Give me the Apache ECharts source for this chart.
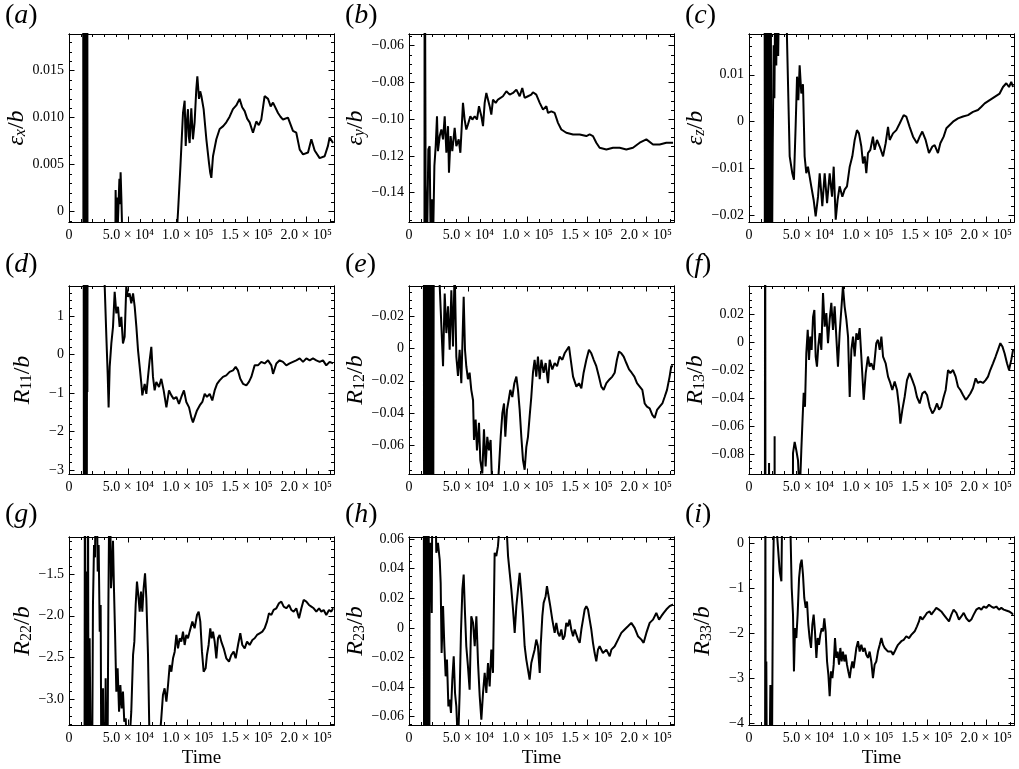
<!DOCTYPE html>
<html><head><meta charset="utf-8">
<script src="https://cdn.jsdelivr.net/npm/echarts@6/dist/echarts.min.js"></script>
<style>html,body{margin:0;padding:0;background:#fff}#c{width:1019px;height:769px}</style>
</head><body><div id="c"></div>
<script>
// ---------- data (time in thousands) ----------
const timeTicks = [0, 50000, 100000, 150000, 200000];
const timeTickLabels = ['0', '5.0 × 10⁴', '1.0 × 10⁵', '1.5 × 10⁵', '2.0 × 10⁵'];
const timeMax = 223400;

const panelLetters = ['a','b','c','d','e','f','g','h','i'];
const yNameMain = ['ε','ε','ε','R','R','R','R','R','R'];
const yNameSub = ['x','y','z','11','12','13','22','23','33'];
const yMins = [-0.0011,-0.156,-0.0214,-3.1,-0.0776,-0.0938,-3.31,-0.0656,-4.04];
const yMaxs = [0.0189,-0.0536,0.0187,1.78,0.0386,0.040,-1.055,0.0614,0.133];
const yTickValues = [[0,0.005,0.01,0.015],[-0.14,-0.12,-0.1,-0.08,-0.06],[-0.02,-0.01,0,0.01],[-3,-2,-1,0,1],[-0.06,-0.04,-0.02,0,0.02],[-0.08,-0.06,-0.04,-0.02,0,0.02],[-3,-2.5,-2,-1.5],[-0.06,-0.04,-0.02,0,0.02,0.04,0.06],[-4,-3,-2,-1,0]];
const yTickLabels = [['0','0.005','0.010','0.015'],['−0.14','−0.12','−0.10','−0.08','−0.06'],['−0.02','−0.01','0','0.01'],['−3','−2','−1','0','1'],['−0.06','−0.04','−0.02','0','−0.02'],['−0.08','−0.06','−0.04','−0.02','0','0.02'],['−3.0','−2.5','−2.0','−1.5'],['−0.06','−0.04','−0.02','0','0.02','0.04','0.06'],['−4','−3','−2','−1','0']];
const yMinorStep = [0.001,0.005,0.002,0.2,0.005,0.005,0.1,0.005,0.2];

const epsX = [[0,0.05],[11.8,0.05],[12.2,-0.01],[12.6,0.04],[13.0,-0.01],[13.4,0.04],[13.8,-0.01],[14.2,0.04],[14.6,-0.01],[15.0,0.04],[15.2,0.0172],[15.4,0.04],[15.6,-0.01],[38.8,-0.01],[39.3,0.0023],[39.9,-0.002],[40.5,0.0015],[41.0,-0.002],[41.8,0.001],[42.5,0.0035],[43.0,0.0008],[43.5,0.0042],[44.2,0.0012],[44.8,-0.002],[91.0,-0.002],[92.0,0.0002],[94.0,0.005],[96.1,0.0105],[97.5,0.0118],[98.4,0.007],[99.3,0.0095],[100.3,0.0109],[101.0,0.008],[101.7,0.0073],[103.1,0.011],[104.5,0.0077],[105.9,0.0095],[107.3,0.013],[108.2,0.0144],[109.6,0.012],[110.6,0.0128],[111.6,0.0123],[113.5,0.0109],[115.8,0.0077],[118.0,0.0052],[119.1,0.0041],[120.0,0.0036],[121.4,0.0059],[122.8,0.0068],[124.2,0.0077],[127.0,0.0088],[130.0,0.0091],[132.6,0.0095],[135.4,0.0101],[138.2,0.0109],[141.0,0.0113],[143.8,0.012],[146.0,0.0111],[148.1,0.0107],[150.2,0.0099],[152.3,0.0095],[155.1,0.0084],[157.9,0.0096],[160.0,0.0092],[162.1,0.0098],[164.9,0.0123],[167.8,0.012],[170.0,0.0112],[172.0,0.0116],[176.2,0.0105],[178.3,0.0101],[180.4,0.0098],[184.6,0.01],[188.8,0.0086],[191.6,0.0084],[194.5,0.0066],[197.3,0.0061],[201.5,0.0063],[204.3,0.0077],[207.1,0.0065],[211.3,0.0057],[215.5,0.0059],[218.3,0.007],[219.7,0.0079],[222.6,0.0073]];
const epsY = [[0,-0.5],[12.8,-0.5],[13.2,0.05],[14.0,-0.136],[15.2,-0.17],[16.3,-0.1165],[17.4,-0.1147],[18.3,-0.17],[19.4,-0.1436],[20.2,-0.17],[21.4,-0.1255],[22.5,-0.1147],[23.6,-0.0984],[24.4,-0.1174],[25.9,-0.1092],[27.3,-0.1056],[28.7,-0.111],[30.1,-0.0984],[31.5,-0.1183],[32.9,-0.1038],[33.7,-0.1291],[35.1,-0.1092],[36.5,-0.1174],[38.5,-0.1047],[39.9,-0.1147],[41.9,-0.111],[43.3,-0.1183],[45.5,-0.0911],[46.9,-0.1002],[48.3,-0.1056],[49.7,-0.1029],[51.7,-0.0984],[53.4,-0.1002],[55.4,-0.0984],[57.3,-0.1002],[59.0,-0.0929],[61.0,-0.0984],[62.4,-0.1038],[63.8,-0.0911],[65.2,-0.0857],[66.6,-0.0848],[68.0,-0.0929],[69.4,-0.0975],[70.8,-0.0893],[73.1,-0.0911],[75.0,-0.0893],[76.4,-0.0884],[79.2,-0.0875],[82.1,-0.0848],[84.9,-0.0866],[87.7,-0.0857],[90.5,-0.0839],[93.3,-0.0875],[95.5,-0.083],[97.5,-0.0884],[100.3,-0.0875],[103.1,-0.0866],[104.5,-0.0853],[107.3,-0.0866],[110.2,-0.0911],[113.0,-0.0948],[115.8,-0.0929],[117.2,-0.0966],[120.0,-0.0957],[122.8,-0.0966],[125.6,-0.102],[128.4,-0.1056],[132.6,-0.1074],[138.3,-0.1083],[143.9,-0.1083],[149.5,-0.1092],[152.3,-0.1083],[155.1,-0.1092],[157.9,-0.1128],[160.7,-0.1156],[166.4,-0.1165],[172.0,-0.1156],[177.6,-0.1156],[183.2,-0.1165],[188.8,-0.1156],[194.5,-0.1128],[200.1,-0.111],[205.7,-0.1138],[211.3,-0.1138],[216.9,-0.1128],[222.6,-0.1128]];
const epsZ = [[0,0.1],[13.0,0.1],[13.4,-0.05],[14.1,0.05],[14.8,-0.05],[15.5,0.05],[16.2,-0.05],[16.9,0.05],[17.6,-0.05],[18.3,0.05],[18.9,-0.05],[20.0,-0.005],[20.8,0.0163],[21.4,0.005],[22.2,0.03],[23.0,0.012],[23.8,0.03],[24.6,0.014],[25.4,0.03],[31.6,0.03],[32.0,0.018],[34.3,-0.0074],[36.5,-0.011],[37.9,-0.0124],[39.3,-0.0011],[40.5,0.0096],[41.6,0.0046],[42.7,0.012],[44.1,0.006],[45.5,0.008],[46.9,-0.0074],[48.3,-0.011],[49.7,-0.0096],[52.5,-0.0138],[54.5,-0.0167],[56.2,-0.0202],[58.2,-0.016],[59.6,-0.011],[61.8,-0.018],[63.8,-0.011],[65.8,-0.0174],[68.0,-0.011],[70.0,-0.016],[71.4,-0.0096],[73.1,-0.0209],[74.7,-0.0167],[76.4,-0.0138],[78.7,-0.016],[80.6,-0.0145],[82.6,-0.0138],[84.9,-0.0096],[87.1,-0.0074],[89.1,-0.0039],[91.0,-0.0018],[92.7,-0.0025],[94.7,-0.0053],[96.1,-0.0089],[97.5,-0.0074],[98.9,-0.011],[100.3,-0.0067],[102.3,-0.006],[104.5,-0.0032],[105.9,-0.006],[107.9,-0.0039],[110.2,-0.0053],[113.0,-0.0074],[115.2,-0.0046],[117.2,-0.0011],[118.6,-0.0039],[121.4,-0.0025],[124.2,-0.0018],[127.0,-0.0004],[130.4,0.0014],[132.6,0.0011],[135.4,-0.0011],[138.3,-0.0032],[141.6,-0.0046],[143.9,-0.0032],[146.1,-0.0021],[148.9,-0.0039],[151.7,-0.0067],[154.6,-0.0053],[156.5,-0.005],[159.3,-0.0067],[161.3,-0.0046],[164.1,-0.0032],[166.4,-0.0014],[169.2,-0.0007],[172.0,0],[176.2,0.0007],[180.4,0.0011],[184.6,0.0014],[188.8,0.0021],[193.0,0.0025],[195.9,0.0032],[198.7,0.0039],[202.9,0.0046],[207.1,0.0053],[211.3,0.006],[214.1,0.0074],[216.9,0.0082],[219.2,0.0074],[221.1,0.0085],[222.6,0.0074]];
const r11 = [[0,5],[12.3,5],[12.6,-5],[13.0,5],[13.4,-5],[13.8,5],[14.2,-5],[14.6,5],[15.0,-5],[15.3,5],[15.5,-0.97],[15.7,5],[29.6,5],[30.1,1.77],[31.5,0.46],[32.6,-0.5],[33.4,-1.37],[34.3,-0.32],[35.7,0.29],[37.1,0.72],[38.5,1.63],[39.9,1.07],[41.3,1.24],[42.7,0.72],[44.1,0.98],[45.5,0.29],[46.9,0.46],[48.3,1.77],[49.7,1.5],[51.1,1.59],[52.5,1.33],[54.0,1.59],[55.4,1.24],[56.8,0.72],[58.2,0.11],[59.6,-0.32],[61.0,-0.76],[61.8,-1.06],[63.8,-0.76],[65.2,-1.02],[66.6,-0.58],[68.0,-0.15],[69.4,0.2],[70.8,-0.58],[72.2,-0.93],[73.6,-0.71],[75.9,-0.84],[77.8,-0.63],[79.8,-0.93],[82.1,-1.37],[84.3,-0.93],[86.3,-1.06],[88.2,-1.15],[90.5,-1.1],[92.7,-1.28],[94.7,-1.1],[96.9,-0.93],[98.9,-1.23],[101.2,-1.37],[103.1,-1.63],[104.5,-1.76],[105.9,-1.63],[107.9,-1.45],[110.2,-1.32],[112.4,-1.23],[114.4,-1.02],[116.3,-1.1],[118.6,-1.02],[120.8,-1.19],[122.8,-0.93],[124.8,-0.76],[127.0,-0.67],[129.8,-0.58],[132.6,-0.54],[135.4,-0.45],[138.3,-0.41],[140.5,-0.32],[142.4,-0.41],[144.4,-0.63],[146.7,-0.76],[149.5,-0.8],[151.7,-0.71],[153.7,-0.58],[156.5,-0.28],[159.3,-0.28],[162.1,-0.19],[164.9,-0.23],[167.8,-0.15],[170.6,-0.28],[172.0,-0.5],[174.8,-0.23],[177.6,-0.15],[180.4,-0.19],[183.2,-0.28],[186.0,-0.23],[188.8,-0.19],[191.6,-0.15],[194.5,-0.1],[197.3,-0.19],[200.1,-0.1],[202.9,-0.15],[205.7,-0.1],[208.5,-0.15],[211.3,-0.19],[214.1,-0.15],[216.9,-0.28],[219.7,-0.19],[222.6,-0.23]];
const r12 = [[0,0.2],[12.4,0.2],[12.8,-0.2],[13.2,0.2],[13.6,-0.2],[14.0,0.2],[14.4,-0.2],[14.8,0.2],[15.2,-0.2],[15.5,-0.059],[16.0,0.2],[16.9,0.2],[17.3,-0.2],[17.8,0.2],[18.3,-0.2],[18.8,0.2],[19.3,-0.2],[19.8,0.2],[20.2,-0.2],[20.8,0.036],[21.6,0.036],[23.0,0.2],[25.9,0.0384],[28.7,-0.011],[30.1,0.034],[31.5,0.0095],[32.9,0.026],[34.3,-0.0008],[35.7,0.036],[37.1,0.0012],[38.5,0.05],[39.9,-0.005],[41.3,-0.017],[42.7,-0.0008],[44.1,-0.0215],[46.1,0.032],[47.2,-0.0008],[48.3,-0.011],[49.7,-0.019],[51.1,-0.015],[52.5,-0.0256],[54.0,-0.032],[54.8,-0.0566],[56.2,-0.044],[57.3,-0.063],[59.0,-0.046],[60.1,-0.069],[61.8,-0.0773],[63.2,-0.05],[64.6,-0.073],[66.0,-0.0546],[67.4,-0.063],[68.8,-0.0566],[70.3,-0.09],[73.6,-0.1],[75.9,-0.073],[77.3,-0.0546],[78.7,-0.04],[80.1,-0.034],[81.2,-0.0546],[82.6,-0.038],[84.0,-0.032],[85.4,-0.0256],[87.1,-0.03],[88.8,-0.0215],[90.5,-0.0174],[91.9,-0.0256],[93.3,-0.038],[94.7,-0.0546],[96.1,-0.069],[97.5,-0.075],[98.9,-0.061],[100.3,-0.0546],[101.7,-0.042],[103.1,-0.03],[104.5,-0.015],[105.9,-0.007],[107.3,-0.0174],[108.7,-0.005],[110.2,-0.019],[111.6,-0.007],[113.5,-0.015],[115.2,-0.009],[117.2,-0.0215],[118.6,-0.007],[120.8,-0.013],[122.8,-0.009],[124.8,-0.011],[127.0,-0.005],[129.3,-0.007],[131.2,-0.003],[132.6,-0.003],[134.9,0.0012],[136.0,-0.005],[138.3,-0.0174],[141.1,-0.0236],[143.3,-0.0215],[145.3,-0.0246],[147.2,-0.015],[149.5,-0.007],[151.7,-0.0008],[153.7,-0.003],[155.7,-0.007],[157.9,-0.011],[160.1,-0.0174],[162.1,-0.0236],[164.1,-0.0256],[166.4,-0.0215],[169.2,-0.019],[171.4,-0.0174],[173.4,-0.015],[175.3,-0.007],[177.0,-0.0019],[179.0,-0.003],[181.0,-0.005],[183.2,-0.009],[185.5,-0.013],[187.7,-0.015],[190.0,-0.0174],[192.2,-0.0215],[194.5,-0.0236],[196.7,-0.0256],[198.7,-0.034],[200.6,-0.036],[202.9,-0.037],[205.1,-0.041],[207.1,-0.043],[209.1,-0.038],[211.3,-0.036],[213.6,-0.034],[215.5,-0.03],[217.5,-0.0256],[219.7,-0.0174],[221.1,-0.011],[222.6,-0.011]];
const r13 = [[0,-0.3],[13.3,-0.3],[13.6,0.2],[14.0,-0.3],[16.5,-0.3],[16.9,-0.086],[17.3,-0.3],[21.3,-0.3],[21.6,-0.067],[21.9,-0.3],[36.5,-0.3],[37.1,-0.079],[38.5,-0.071],[39.9,-0.077],[41.3,-0.084],[42.7,-0.11],[44.1,-0.077],[45.0,-0.058],[46.1,-0.036],[47.2,-0.046],[48.3,-0.008],[49.5,0.0088],[50.6,-0.0126],[51.7,0.004],[52.8,-0.0055],[54.0,0.018],[55.1,0.0229],[56.2,-0.0102],[57.3,-0.0174],[58.4,-0.003],[59.6,0.0064],[61.0,-0.0055],[62.4,0.035],[63.8,0.011],[65.2,0.0207],[66.6,-0.0007],[68.0,0.016],[69.4,0.028],[70.8,0.0088],[72.2,0.0255],[73.6,0.004],[75.0,-0.0174],[76.4,0.0064],[77.8,0.0229],[79.2,0.04],[80.6,0.0255],[82.1,0.016],[83.5,0.004],[84.9,-0.039],[86.3,-0.0055],[87.7,0.004],[89.1,-0.0102],[90.5,0.0064],[91.9,0.0017],[93.3,0.01],[94.7,-0.0102],[96.7,-0.041],[98.4,-0.022],[100.3,-0.0102],[101.7,-0.0174],[103.1,-0.015],[105.1,-0.0198],[107.3,-0.0007],[108.7,0.0017],[110.2,-0.0055],[111.6,0.004],[113.0,-0.0102],[115.2,-0.015],[117.2,-0.0245],[119.1,-0.029],[120.8,-0.034],[122.8,-0.028],[124.8,-0.034],[126.5,-0.046],[127.6,-0.058],[129.3,-0.048],[131.2,-0.039],[133.2,-0.027],[135.4,-0.022],[137.7,-0.027],[139.7,-0.0317],[141.6,-0.039],[143.9,-0.0436],[146.1,-0.0365],[148.1,-0.035],[150.1,-0.0376],[152.3,-0.046],[154.6,-0.0507],[156.5,-0.048],[158.5,-0.0436],[160.2,-0.048],[162.1,-0.046],[164.1,-0.039],[165.8,-0.034],[167.8,-0.0198],[169.7,-0.022],[172.0,-0.0198],[174.2,-0.0245],[176.2,-0.0317],[178.2,-0.034],[180.4,-0.0376],[182.7,-0.041],[184.6,-0.039],[186.6,-0.0365],[188.8,-0.0328],[191.1,-0.0257],[193.0,-0.029],[195.0,-0.028],[197.3,-0.029],[199.5,-0.027],[201.5,-0.0245],[203.4,-0.0198],[205.7,-0.015],[207.9,-0.0102],[209.9,-0.0055],[211.9,-0.0007],[213.6,-0.003],[215.5,-0.008],[217.5,-0.015],[219.2,-0.0198],[221.1,-0.0126],[222.6,-0.0055]];
const r22 = [[0,-5],[13.0,-5],[13.4,0],[13.8,-5],[14.6,-1.47],[15.2,-5],[16.0,0],[16.6,-5],[17.4,-2.27],[18.0,-2.27],[19.1,-5],[20.2,-1.87],[21.1,-1.15],[21.9,-1.3],[23.0,0],[24.2,-1.47],[25.0,-1.15],[25.9,-2.19],[26.7,-1.87],[27.5,-5],[28.7,-2.87],[29.8,-5],[30.9,-2.75],[32.0,-5],[33.2,-1.87],[34.3,0],[35.4,-1.67],[36.2,-1.47],[37.1,-1.1],[37.9,-1.67],[38.8,-2.19],[39.9,-2.91],[41.0,-2.63],[42.2,-3.15],[43.3,-2.83],[44.4,-3.11],[45.5,-2.91],[46.6,-3.27],[47.8,-3.23],[48.9,-3.6],[50.6,-3.6],[52.5,-3.15],[54.0,-2.47],[55.1,-2.31],[56.2,-1.87],[57.3,-1.59],[58.4,-1.75],[59.6,-1.95],[60.7,-1.71],[61.8,-1.95],[62.9,-1.67],[64.1,-1.49],[65.2,-1.79],[66.6,-2.47],[68.0,-3.6],[73.6,-4],[77.8,-3.23],[79.2,-2.95],[80.6,-2.87],[82.1,-3.03],[83.5,-2.83],[84.9,-2.59],[86.3,-2.67],[87.7,-2.51],[89.1,-2.43],[90.5,-2.23],[91.9,-2.39],[93.3,-2.27],[94.7,-2.31],[96.1,-2.19],[97.5,-2.35],[98.9,-2.23],[100.3,-2.27],[101.7,-2.19],[104.0,-2.07],[105.9,-2.15],[107.9,-1.99],[109.3,-1.95],[110.7,-2.07],[112.1,-2.43],[113.5,-2.67],[115.2,-2.63],[116.3,-2.47],[117.7,-2.35],[119.1,-2.15],[120.3,-2.27],[121.4,-2.19],[122.8,-2.31],[124.2,-2.51],[125.6,-2.27],[127.0,-2.23],[128.4,-2.31],[130.4,-2.39],[132.6,-2.51],[134.9,-2.55],[136.8,-2.47],[138.8,-2.43],[140.5,-2.51],[142.5,-2.35],[144.4,-2.21],[146.1,-2.35],[148.1,-2.39],[150.1,-2.31],[152.3,-2.35],[154.6,-2.29],[156.5,-2.27],[158.5,-2.23],[160.7,-2.21],[163.0,-2.19],[164.9,-2.15],[166.9,-2.07],[168.6,-1.97],[170.6,-1.99],[172.5,-1.93],[174.8,-1.91],[177.0,-1.85],[179.0,-1.83],[181.0,-1.89],[183.2,-1.91],[185.5,-1.87],[187.4,-1.93],[189.4,-1.95],[191.6,-1.91],[193.9,-2.03],[195.9,-1.91],[197.8,-1.81],[200.1,-1.83],[202.3,-1.87],[204.3,-1.89],[206.3,-1.91],[208.5,-1.95],[210.8,-1.91],[212.7,-1.95],[214.7,-1.93],[216.9,-1.99],[219.2,-1.93],[221.1,-1.95],[222.6,-1.91]];
const r23 = [[0,0.2],[12.4,0.2],[12.8,-0.2],[13.2,0.2],[13.6,-0.2],[14.0,0.2],[14.4,-0.2],[14.8,0.2],[15.2,-0.2],[15.6,0.2],[16.0,-0.2],[16.5,0.2],[16.9,-0.2],[17.4,0.037],[18.3,0.0575],[19.2,0.01],[20.2,0.2],[23.0,0.0507],[24.4,0.0575],[25.9,0.046],[26.7,0.0304],[27.5,-0.017],[28.7,0.0147],[29.8,-0.0124],[30.9,-0.0327],[32.0,-0.0214],[33.2,-0.053],[34.3,-0.0485],[35.4,-0.0575],[36.5,-0.035],[37.7,-0.0192],[38.8,-0.044],[39.9,-0.053],[41.3,-0.08],[42.7,-0.044],[43.8,-0.0034],[45.0,0.026],[46.1,0.036],[47.2,0.0101],[48.3,-0.0124],[49.7,-0.026],[51.1,-0.0417],[52.5,0.0079],[54.0,0.0034],[55.4,-0.0124],[56.8,0.0079],[58.2,-0.0237],[59.6,-0.0462],[61.0,-0.062],[62.4,-0.044],[63.8,-0.0304],[65.2,-0.044],[66.6,-0.0237],[68.0,-0.0395],[69.4,-0.0147],[70.8,-0.0304],[72.2,0.0507],[73.6,0.0485],[75.0,0.0552],[76.4,0.07],[79.2,0.07],[82.1,0.07],[83.5,0.0485],[84.9,0.0372],[86.3,0.026],[87.7,0.0124],[89.1,-0.0034],[90.5,0.0147],[91.9,0.026],[93.3,0.0372],[94.7,0.0237],[96.1,0.0079],[97.5,-0.0124],[98.9,-0.0214],[100.3,-0.0282],[101.7,-0.035],[103.1,-0.0237],[104.5,-0.0192],[105.9,-0.0147],[107.3,-0.0079],[108.7,-0.0124],[110.2,-0.0304],[111.0,-0.0124],[112.4,0.0079],[113.5,0.0169],[115.2,0.0214],[116.3,0.0282],[117.7,0.0214],[119.1,0.0147],[120.8,0.0056],[122.8,-0.0034],[124.2,0.0034],[125.6,-0.0034],[127.0,-0.0056],[128.4,-0.0011],[129.8,-0.0079],[131.2,-0.0056],[132.6,0.0034],[134.0,0.0011],[135.4,0.0056],[136.8,-0.0011],[138.3,-0.0056],[139.7,-0.0011],[141.1,-0.0045],[142.5,-0.0079],[143.9,-0.0101],[145.3,-0.0011],[146.7,0.0056],[148.1,0.0124],[149.5,0.0147],[150.9,0.0124],[152.3,0.0056],[153.7,-0.0011],[155.1,-0.0101],[156.5,-0.017],[157.9,-0.0226],[159.3,-0.0147],[160.7,-0.0124],[163.5,-0.017],[166.4,-0.0147],[169.2,-0.0192],[170.6,-0.0147],[173.4,-0.0124],[176.2,-0.0079],[179.0,-0.0034],[181.8,-0.0011],[184.6,0.0011],[187.4,0.0034],[190.2,0],[193.0,-0.0056],[195.9,-0.0079],[197.8,-0.0101],[200.1,-0.0034],[202.9,0.0034],[205.7,0.0056],[208.5,0.0101],[210.8,0.0056],[212.7,0.0079],[214.7,0.0101],[216.9,0.0124],[219.7,0.0147],[222.6,0.0158]];
const r33 = [[0,-6],[13.5,-6],[13.8,1],[14.2,-6],[14.6,-2.63],[15.2,-6],[16.9,-6],[18.0,-3.15],[19.1,-6],[20.2,-0.85],[21.4,1],[25.9,-0.63],[27.3,-0.85],[28.1,1],[34.7,1],[35.1,0.1],[36.0,-1],[37.1,-1.59],[37.9,-2.85],[38.8,-1.89],[39.9,-2.11],[41.0,-1.59],[42.2,-0.78],[43.3,-0.48],[44.4,-0.37],[45.5,-0.7],[46.6,-1.22],[47.8,-1.44],[48.9,-1.3],[50.0,-1.81],[51.1,-2.11],[52.3,-2.33],[53.4,-1.81],[54.5,-1.59],[55.6,-1.96],[56.8,-2.55],[57.9,-2.11],[59.0,-2.26],[60.1,-2.04],[61.3,-1.89],[62.4,-1.96],[63.5,-1.67],[64.6,-1.96],[65.8,-2.63],[66.9,-2.92],[68.0,-3.4],[69.1,-2.85],[70.3,-3.0],[71.4,-2.7],[72.5,-2.11],[73.6,-2.55],[74.7,-2.41],[75.9,-2.7],[77.0,-2.33],[78.1,-2.63],[79.2,-2.41],[80.4,-2.63],[81.5,-2.48],[82.6,-2.7],[83.7,-2.85],[84.9,-3.0],[86.0,-2.78],[87.1,-2.63],[88.2,-2.78],[89.4,-2.55],[90.5,-2.33],[91.9,-2.18],[93.3,-2.41],[94.7,-2.26],[96.1,-2.41],[97.5,-2.33],[98.9,-2.48],[100.3,-2.55],[101.7,-2.41],[103.1,-2.63],[104.5,-3.0],[105.9,-2.7],[107.3,-2.63],[108.7,-2.41],[110.2,-2.26],[111.6,-2.11],[113.0,-2.26],[114.4,-2.33],[115.8,-2.37],[117.2,-2.41],[118.6,-2.44],[120.0,-2.41],[121.4,-2.48],[122.8,-2.41],[124.2,-2.33],[125.6,-2.26],[127.0,-2.3],[128.4,-2.18],[130.4,-2.15],[132.6,-2.07],[134.9,-2.11],[136.8,-2.04],[138.3,-2.07],[139.7,-1.96],[141.6,-1.85],[143.3,-1.74],[144.4,-1.63],[146.1,-1.7],[148.1,-1.63],[150.1,-1.55],[152.3,-1.52],[153.7,-1.59],[155.7,-1.52],[157.9,-1.44],[160.1,-1.48],[162.1,-1.52],[164.1,-1.59],[166.4,-1.67],[168.6,-1.74],[170.6,-1.59],[172.5,-1.48],[174.8,-1.55],[177.0,-1.7],[179.0,-1.63],[181.0,-1.55],[183.2,-1.67],[185.5,-1.74],[187.4,-1.7],[189.4,-1.59],[191.6,-1.48],[193.9,-1.44],[195.9,-1.48],[197.8,-1.41],[200.1,-1.44],[202.3,-1.37],[204.3,-1.41],[206.3,-1.44],[208.5,-1.41],[210.8,-1.48],[212.7,-1.44],[214.7,-1.48],[216.9,-1.5],[219.2,-1.52],[221.1,-1.55],[222.6,-1.59]];
const panelData = [epsX, epsY, epsZ, r11, r12, r13, r22, r23, r33];

// ---------- layout / style ----------
const fontFamily = "'Liberation Serif','Times New Roman',Times,serif";
const black = '#000';
const colLeft = [69, 409, 749];
const rowTop = [34, 286, 537];
const plotW = 265, plotH = 188;
const axisLineStyle = { color: black, width: 1 };

function minorValues(min, max, step) {
  const out = [];
  for (let k = Math.ceil(min / step - 1e-6); k * step <= max + 1e-12; k++) out.push(Number((k * step).toPrecision(12)));
  return out;
}
function labelFor(values, labels, v) {
  for (let i = 0; i < values.length; i++) if (Math.abs(values[i] - v) < 1e-9 * Math.max(1, Math.abs(v))) return labels[i];
  return '';
}

const option = { animation: false, backgroundColor: '#fff', grid: [], xAxis: [], yAxis: [], series: [], graphic: [] };
const xMinor = minorValues(0, timeMax, 10000);

for (let g = 0; g < 9; g++) {
  const r = Math.floor(g / 3), c = g % 3;
  option.grid.push({ left: colLeft[c], top: rowTop[r], width: plotW, height: plotH, containLabel: false, outerBoundsMode: 'none' });

  const xBase = { type: 'value', gridIndex: g, min: 0, max: timeMax, splitLine: { show: false },
    axisLine: { show: true, onZero: false, lineStyle: axisLineStyle }, axisPointer: { show: false } };
  option.xAxis.push(Object.assign({}, xBase, {
    position: 'bottom',
    axisTick: { show: true, inside: true, length: 5.5, lineStyle: axisLineStyle, customValues: timeTicks },
    axisLabel: { show: true, customValues: timeTicks, color: black, fontFamily, fontSize: 14, margin: 6,
      formatter: v => labelFor(timeTicks, timeTickLabels, v) },
    name: r === 2 ? 'Time' : '', nameLocation: 'middle', nameGap: 24,
    nameTextStyle: { color: black, fontFamily, fontSize: 19 }
  }));
  option.xAxis.push(Object.assign({}, xBase, { position: 'top',
    axisTick: { show: true, inside: true, length: 5.5, lineStyle: axisLineStyle, customValues: timeTicks }, axisLabel: { show: false } }));
  option.xAxis.push(Object.assign({}, xBase, { position: 'bottom',
    axisTick: { show: true, inside: true, length: 3, lineStyle: axisLineStyle, customValues: xMinor }, axisLabel: { show: false } }));
  option.xAxis.push(Object.assign({}, xBase, { position: 'top',
    axisTick: { show: true, inside: true, length: 3, lineStyle: axisLineStyle, customValues: xMinor }, axisLabel: { show: false } }));

  const yMin = yMins[g], yMax = yMaxs[g];
  const yMajor = yTickValues[g].filter(v => v >= yMin && v <= yMax);
  const yMinor = minorValues(yMin, yMax, yMinorStep[g]);
  const yBase = { type: 'value', gridIndex: g, min: yMin, max: yMax, splitLine: { show: false },
    axisLine: { show: true, onZero: false, lineStyle: axisLineStyle }, axisPointer: { show: false } };
  const sub = yNameSub[g];
  const subIsDigit = /^[0-9]+$/.test(sub);
  const nameText = '{i|' + yNameMain[g] + '}{' + (subIsDigit ? 's' : 'si') + '|' + sub + '}{n|/}{i|b}';
  option.yAxis.push(Object.assign({}, yBase, {
    position: 'left',
    axisTick: { show: true, inside: true, length: 5.5, lineStyle: axisLineStyle, customValues: yMajor },
    axisLabel: { show: true, customValues: yMajor, color: black, fontFamily, fontSize: 14, margin: 5,
      formatter: v => labelFor(yTickValues[g], yTickLabels[g], v) },
    name: nameText, nameLocation: 'middle', nameRotate: 90, nameGap: 34,
    nameTextStyle: { color: black, rich: {
      i: { fontFamily, fontStyle: 'italic', fontSize: 24, lineHeight: 24, verticalAlign: 'top', color: black },
      n: { fontFamily, fontSize: 24, lineHeight: 24, verticalAlign: 'top', color: black },
      s: { fontFamily, fontSize: 16, lineHeight: 16, padding: [11, 0, 0, 0], verticalAlign: 'bottom', color: black },
      si: { fontFamily, fontStyle: 'italic', fontSize: 16, lineHeight: 16, padding: [11, 0, 0, 0], verticalAlign: 'bottom', color: black }
    } }
  }));
  option.yAxis.push(Object.assign({}, yBase, { position: 'right',
    axisTick: { show: true, inside: true, length: 5.5, lineStyle: axisLineStyle, customValues: yMajor }, axisLabel: { show: false } }));
  option.yAxis.push(Object.assign({}, yBase, { position: 'left',
    axisTick: { show: true, inside: true, length: 3, lineStyle: axisLineStyle, customValues: yMinor }, axisLabel: { show: false } }));
  option.yAxis.push(Object.assign({}, yBase, { position: 'right',
    axisTick: { show: true, inside: true, length: 3, lineStyle: axisLineStyle, customValues: yMinor }, axisLabel: { show: false } }));

  option.series.push({
    type: 'line', xAxisIndex: g * 4, yAxisIndex: g * 4,
    data: panelData[g].map(p => [p[0] * 1000, p[1]]),
    showSymbol: false, symbol: 'none', clip: true, silent: true,
    lineStyle: { color: black, width: 2 }
  });

  option.graphic.push({
    type: 'text', left: 5 + c * 340, top: [2, 251, 501][r], silent: true,
    style: { text: '{p|(}{l|' + panelLetters[g] + '}{p|)}', fill: black,
      rich: { p: { fontFamily, fontSize: 28, fill: black }, l: { fontFamily, fontSize: 28, fontStyle: 'italic', fill: black } } }
  });
}

const chart = echarts.init(document.getElementById('c'), null, { renderer: 'canvas' });
chart.setOption(option);
</script>
</body></html>
